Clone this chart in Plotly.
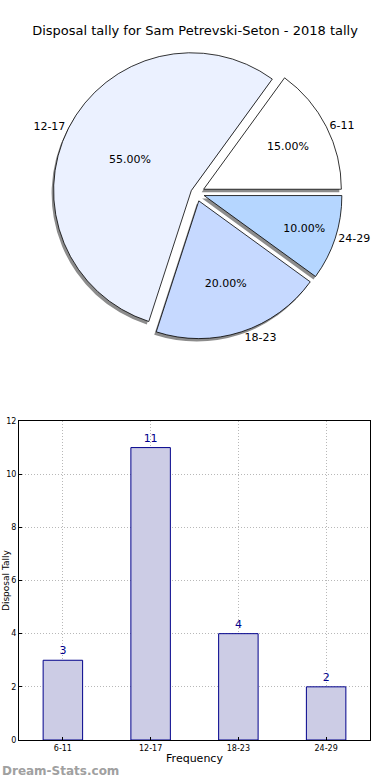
import plotly.graph_objects as go

title_text = "Disposal tally for Sam Petrevski-Seton - 2018 tally"
categories = ["6-11", "12-17", "18-23", "24-29"]
tally = [3, 11, 4, 2]
pie_colors = ["#ffffff", "#ebf1ff", "#c6d9ff", "#b5d6ff"]
pulls = [0.06, 0.04, 0.06, 0.06]
y_title = "Disposal Tally"
x_title = "Frequency"
watermark = "Dream-Stats.com"

W, H = 390, 780
ML, MR, MT, MB = 19, 20, 0, 40
pw = W - ML - MR
ph = H - MT - MB

# pie domain in paper coords
py_top, py_bot = 47, 339
dom_y = [(H - MB - py_bot) / ph, (H - MB - py_top) / ph]
dom_x = [0.02, 0.99]
sdx, sdy = -2 / pw, -3 / ph
ROT = 36

fig = go.Figure()

# shadow
fig.add_trace(go.Pie(
    labels=categories, values=tally, sort=False, direction="counterclockwise",
    rotation=ROT, pull=pulls, marker=dict(colors=["#8c8c8c"] * 4, line=dict(width=0)),
    textinfo="none", hoverinfo="skip", showlegend=False,
    domain=dict(x=[dom_x[0] + sdx, dom_x[1] + sdx], y=[dom_y[0] + sdy, dom_y[1] + sdy]),
))
# main pie with percentages inside
fig.add_trace(go.Pie(
    labels=categories, values=tally, sort=False, direction="counterclockwise",
    rotation=ROT, pull=pulls,
    marker=dict(colors=pie_colors, line=dict(color="#000000", width=0.8)),
    texttemplate="%{percent:.2%}", textposition="inside", insidetextorientation="horizontal",
    textfont=dict(family="DejaVu Sans", size=11, color="#000000"),
    showlegend=False, domain=dict(x=dom_x, y=dom_y),
))
# labels outside (transparent)
fig.add_trace(go.Pie(
    labels=categories, values=tally, sort=False, direction="counterclockwise",
    rotation=ROT, pull=pulls,
    marker=dict(colors=["rgba(0,0,0,0)"] * 4, line=dict(width=0)),
    textinfo="label", textposition="outside",
    textfont=dict(family="DejaVu Sans", size=11, color="#000000"),
    hoverinfo="skip", showlegend=False, domain=dict(x=dom_x, y=dom_y),
))

fig.add_trace(go.Bar(
    x=categories, y=tally, width=0.45,
    marker=dict(color="#cccce5", line=dict(color="#00008b", width=1)),
    text=tally, textposition="outside", cliponaxis=False,
    textfont=dict(family="DejaVu Sans", size=11, color="#00008b"),
    showlegend=False,
))

bar_top = (H - MB - 421) / ph
grid = dict(showgrid=True, gridcolor="#b8b8b8", griddash="1px,2px", gridwidth=1)
fig.update_layout(
    width=W, height=H, autosize=False,
    margin=dict(l=ML, r=MR, t=MT, b=MB, autoexpand=False),
    paper_bgcolor="white", plot_bgcolor="white",
    font=dict(family="DejaVu Sans", color="#000000"),
    title=dict(text=title_text, x=0.5, xanchor="center", y=1 - 30 / H, yanchor="middle",
               font=dict(family="DejaVu Sans", size=13, color="#000000")),
    xaxis=dict(domain=[0, 1], anchor="y", type="category", range=[-0.5, 3.5], automargin=False,
               showline=True, mirror=True, linecolor="#000000", linewidth=1, **grid,
               ticks="inside", ticklen=3, tickcolor="#000000",
               tickfont=dict(size=8), title=dict(text=x_title, font=dict(size=11), standoff=2)),
    yaxis=dict(domain=[0, bar_top], anchor="x", range=[0, 12], dtick=2, automargin=False,
               showline=True, mirror=True, linecolor="#000000", linewidth=1, **grid,
               ticks="inside", ticklen=3, tickcolor="#000000", zeroline=False,
               tickfont=dict(size=8)),
    annotations=[
        dict(text="<b>" + watermark + "</b>", xref="paper", yref="paper",
             x=-ML / pw, y=-(MB - 9) / ph, xanchor="left", yanchor="middle",
             showarrow=False, font=dict(family="DejaVu Sans", size=12, color="#a0a0a0")),
        dict(text=y_title, xref="paper", yref="paper", textangle=-90,
             x=-(ML - 5.5) / pw, y=bar_top / 2, xanchor="center", yanchor="middle",
             showarrow=False, font=dict(family="DejaVu Sans", size=9, color="#000000")),
    ],
)

fig.write_html("out.html", config={"displayModeBar": False},
               post_script="document.body.style.margin='0';document.body.style.padding='0';")
